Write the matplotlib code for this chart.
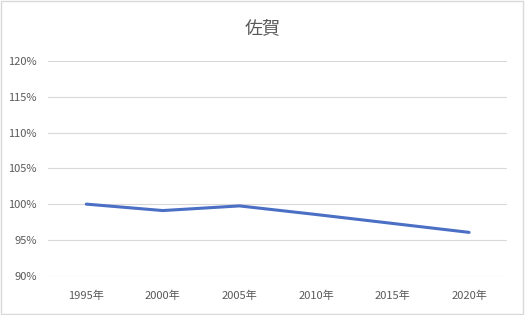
import matplotlib
matplotlib.use("Agg")
import matplotlib.pyplot as plt
from matplotlib.ticker import FuncFormatter

plt.rcParams['font.family'] = ['Noto Sans CJK JP', 'DejaVu Sans']

# Data
years = ["1995年", "2000年", "2005年", "2010年", "2015年", "2020年"]
values = [100.0, 99.1, 99.75, 98.55, 97.3, 96.05]
y_ticks = [90, 95, 100, 105, 110, 115, 120]
title = "佐賀"

fig = plt.figure(figsize=(5.25, 3.15), dpi=100)
ax = fig.add_axes([0.0914, 0.125, 0.875, 0.681])

x = list(range(len(years)))
ax.plot(x, values, color="#4A6FC4", linewidth=2.2, solid_capstyle="round", zorder=3)

ax.set_xlim(-0.5, len(years) - 0.5)
ax.set_ylim(90, 120)
ax.set_yticks(y_ticks)
ax.yaxis.set_major_formatter(FuncFormatter(lambda v, p: f"{int(v)}%"))
ax.set_xticks(x)
ax.set_xticklabels(years)

ax.grid(axis="y", color="#D9D9D9", linewidth=0.8)
ax.set_axisbelow(True)
for s in ax.spines.values():
    s.set_visible(False)
ax.tick_params(axis="both", length=0, labelsize=8, colors="#595959")
ax.tick_params(axis="x", pad=11)
ax.tick_params(axis="y", pad=8)

fig.suptitle(title, y=0.94, fontsize=13, color="#595959")

# light border around the chart area
fig.patches.append(plt.Rectangle((0.002, 0.003), 0.995, 0.994, transform=fig.transFigure,
                                 fill=False, edgecolor="#D9D9D9", linewidth=1))

fig.savefig("out.png", dpi=100)
